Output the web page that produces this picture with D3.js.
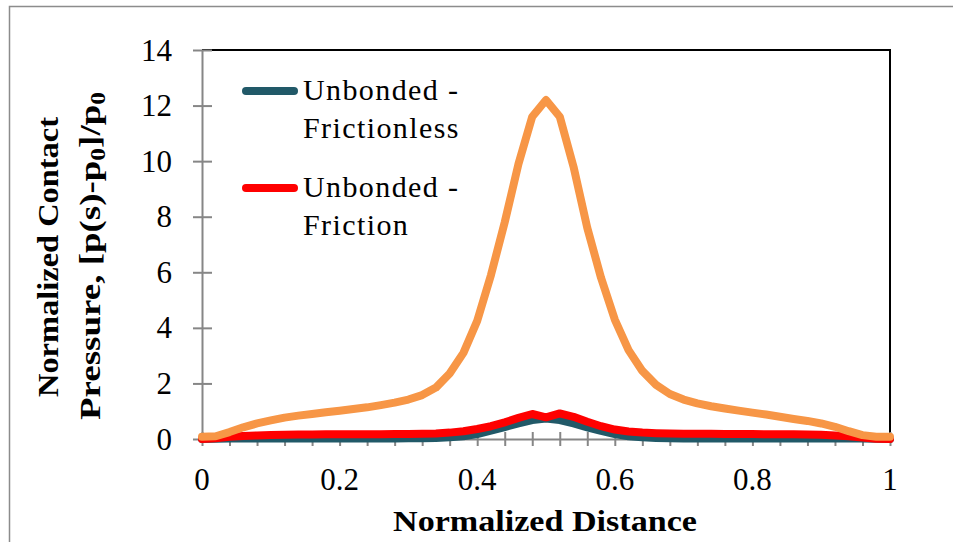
<!DOCTYPE html>
<html>
<head>
<meta charset="utf-8">
<script src="https://cdn.jsdelivr.net/npm/d3@7"></script>
<style>
  body { margin: 0; background: #fff; }
  svg { display: block; font-family: "Liberation Serif", serif; }
</style>
</head>
<body>
<div id="wrapper"></div>
<script>
// normalized distance along the contact
const distance = [0, 0.02, 0.04, 0.06, 0.08, 0.10, 0.12, 0.14, 0.16, 0.18,
  0.20, 0.22, 0.24, 0.26, 0.28, 0.30, 0.32, 0.34, 0.36, 0.38,
  0.40, 0.42, 0.44, 0.46, 0.48, 0.50, 0.52, 0.54, 0.56, 0.58,
  0.60, 0.62, 0.64, 0.66, 0.68, 0.70, 0.72, 0.74, 0.76, 0.78,
  0.80, 0.82, 0.84, 0.86, 0.88, 0.90, 0.92, 0.94, 0.96, 0.98, 1.00]

const frictionless = [0, 0.01, 0.02, 0.02, 0.02, 0.02, 0.02, 0.02, 0.02, 0.02,
  0.02, 0.02, 0.02, 0.02, 0.02, 0.03, 0.03, 0.04, 0.06, 0.10,
  0.18, 0.30, 0.43, 0.56, 0.68, 0.74, 0.68, 0.56, 0.42, 0.29,
  0.18, 0.10, 0.06, 0.04, 0.03, 0.02, 0.02, 0.02, 0.02, 0.02,
  0.02, 0.02, 0.02, 0.02, 0.02, 0.02, 0.02, 0.02, 0.02, 0.01, 0]

const friction = [0, 0.03, 0.08, 0.11, 0.13, 0.14, 0.15, 0.16, 0.16, 0.17,
  0.17, 0.17, 0.17, 0.17, 0.18, 0.18, 0.19, 0.20, 0.23, 0.28,
  0.36, 0.46, 0.60, 0.76, 0.90, 0.78, 0.92, 0.80, 0.62, 0.46,
  0.34, 0.27, 0.23, 0.21, 0.20, 0.19, 0.19, 0.19, 0.18, 0.18,
  0.18, 0.17, 0.17, 0.17, 0.16, 0.15, 0.13, 0.10, 0.05, 0.01, 0]

const bonded = [0.08, 0.10, 0.25, 0.42, 0.56, 0.67, 0.77, 0.84, 0.90, 0.96,
  1.02, 1.08, 1.14, 1.22, 1.31, 1.42, 1.58, 1.85, 2.36, 3.10,
  4.25, 5.90, 7.80, 9.90, 11.60, 12.20, 11.60, 9.80, 7.60, 5.80,
  4.30, 3.20, 2.45, 1.95, 1.62, 1.42, 1.28, 1.18, 1.10, 1.02,
  0.95, 0.88, 0.80, 0.72, 0.65, 0.56, 0.44, 0.28, 0.14, 0.08, 0.08]

const xTicks = [0, 0.2, 0.4, 0.6, 0.8, 1]
const xMinorTicks = [0, 0.04, 0.08, 0.12, 0.16, 0.2, 0.24, 0.28, 0.32, 0.36, 0.4,
  0.44, 0.48, 0.52, 0.56, 0.6, 0.64, 0.68, 0.72, 0.76, 0.8, 0.84, 0.88, 0.92, 0.96, 1]
const yTicks = [0, 2, 4, 6, 8, 10, 12, 14]

const seriesNames = ["Unbonded - Frictionless", "Unbonded - Friction", "Bonded"]
const seriesColors = ["#215968", "#ff0000", "#f79646"]
const legendLines = [["Unbonded -", "Frictionless"], ["Unbonded -", "Friction"]]

function drawChart() {
  const series = [frictionless, friction, bonded].map((vals, i) => ({
    name: seriesNames[i],
    color: seriesColors[i],
    values: vals.map((v, j) => ({x: distance[j], y: v}))
  }))

  let dimensions = {
    width: 953,
    height: 542,
    margin: {top: 50, right: 63, bottom: 103, left: 202},
  }
  dimensions.boundedWidth = dimensions.width - dimensions.margin.left - dimensions.margin.right
  dimensions.boundedHeight = dimensions.height - dimensions.margin.top - dimensions.margin.bottom

  const wrapper = d3.select("#wrapper").append("svg")
    .attr("width", dimensions.width)
    .attr("height", dimensions.height)

  // outer chart frame
  wrapper.append("rect")
    .attr("x", 9.5).attr("y", 6.5)
    .attr("width", 980).attr("height", 600)
    .attr("fill", "none")
    .attr("stroke", "#8c8c8c")
    .attr("stroke-width", 1.5)

  const bounds = wrapper.append("g")
    .attr("transform", `translate(${dimensions.margin.left},${dimensions.margin.top})`)

  const xScale = d3.scaleLinear()
    .domain([0, 1])
    .range([0, dimensions.boundedWidth])

  const yScale = d3.scaleLinear()
    .domain([0, 14])
    .range([dimensions.boundedHeight, 0])

  // top and right plot border
  bounds.append("path")
    .attr("d", `M0,0H${dimensions.boundedWidth}V${dimensions.boundedHeight}`)
    .attr("fill", "none")
    .attr("stroke", "#000")
    .attr("stroke-width", 2)

  // x axis with crossing minor ticks
  const xAxis = bounds.append("g")
    .attr("transform", `translate(0,${dimensions.boundedHeight})`)
    .call(d3.axisBottom(xScale).tickValues(xMinorTicks).tickSize(7).tickSizeOuter(0).tickFormat(""))
  xAxis.select(".domain").attr("stroke", "#868686").attr("stroke-width", 2)
  xAxis.selectAll(".tick line").attr("y1", -7).attr("stroke", "#868686").attr("stroke-width", 2)

  // y axis
  const yAxis = bounds.append("g")
    .call(d3.axisLeft(yScale).tickValues(yTicks).tickSize(9).tickSizeOuter(0).tickFormat(""))
  yAxis.select(".domain").attr("stroke", "#868686").attr("stroke-width", 2)
  yAxis.selectAll(".tick line").attr("x2", 10).attr("x1", -9).attr("stroke", "#868686").attr("stroke-width", 2)

  // tick labels
  bounds.append("g").selectAll("text")
    .data(xTicks)
    .join("text")
    .attr("x", d => xScale(d))
    .attr("y", dimensions.boundedHeight + 51)
    .attr("text-anchor", "middle")
    .attr("font-size", 31)
    .attr("fill", "#000")
    .text(d => d3.format("")(d))

  bounds.append("g").selectAll("text")
    .data(yTicks)
    .join("text")
    .attr("x", -30)
    .attr("y", d => yScale(d))
    .attr("dy", "0.34em")
    .attr("text-anchor", "end")
    .attr("font-size", 31)
    .attr("fill", "#000")
    .text(d => d)

  // lines
  const lineGenerator = d3.line()
    .x(d => xScale(d.x))
    .y(d => yScale(d.y))

  bounds.append("g").selectAll("path")
    .data(series)
    .join("path")
    .attr("d", d => lineGenerator(d.values))
    .attr("fill", "none")
    .attr("stroke", d => d.color)
    .attr("stroke-width", 8)
    .attr("stroke-linejoin", "round")
    .attr("stroke-linecap", "round")

  // legend (only the unbonded cases)
  const legend = wrapper.append("g")
  legendLines.forEach((lines, i) => {
    const y0 = 91 + i * 97
    legend.append("line")
      .attr("x1", 246).attr("x2", 294)
      .attr("y1", y0).attr("y2", y0)
      .attr("stroke", seriesColors[i])
      .attr("stroke-width", 8)
      .attr("stroke-linecap", "round")
    lines.forEach((t, k) => {
      legend.append("text")
        .attr("x", 303)
        .attr("y", y0 + 9 + k * 38)
        .attr("font-size", 30)
        .attr("letter-spacing", 1.4)
        .attr("fill", "#000")
        .text(t)
    })
  })

  // axis titles
  wrapper.append("text")
    .attr("x", 545)
    .attr("y", 531)
    .attr("text-anchor", "middle")
    .attr("font-size", 29)
    .attr("font-weight", "bold")
    .attr("textLength", 304)
    .attr("lengthAdjust", "spacingAndGlyphs")
    .text("Normalized Distance")

  wrapper.append("text")
    .attr("transform", "translate(58,257) rotate(-90)")
    .attr("text-anchor", "middle")
    .attr("font-size", 29)
    .attr("font-weight", "bold")
    .attr("textLength", 280)
    .attr("lengthAdjust", "spacingAndGlyphs")
    .text("Normalized Contact")

  const t2 = wrapper.append("text")
    .attr("transform", "translate(100,256) rotate(-90)")
    .attr("text-anchor", "middle")
    .attr("font-size", 29)
    .attr("font-weight", "bold")
    .attr("textLength", 328)
    .attr("lengthAdjust", "spacingAndGlyphs")
  t2.append("tspan").text("Pressure, [p(s)-p")
  t2.append("tspan").attr("font-size", 20).attr("baseline-shift", "-25%").text("0")
  t2.append("tspan").text("]/p")
  t2.append("tspan").attr("font-size", 20).attr("baseline-shift", "-25%").text("0")
}

drawChart()
</script>
</body>
</html>
